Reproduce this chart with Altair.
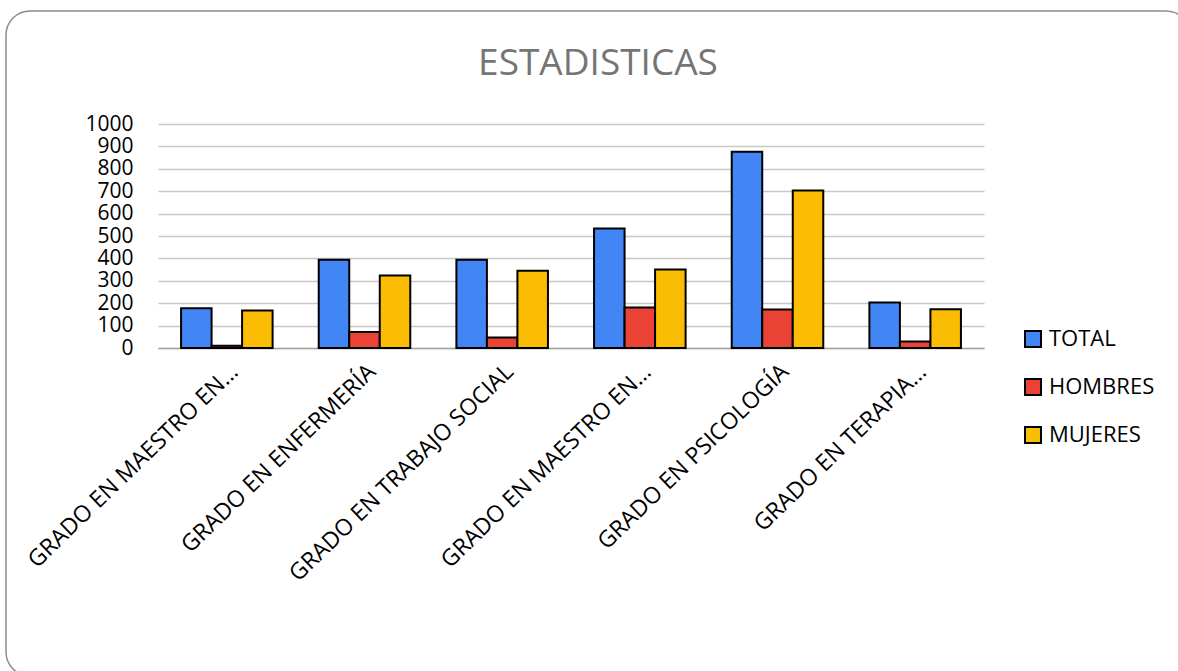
import json
import altair as alt
import pandas as pd

# ---- data ----
categorias = ["GRADO EN MAESTRO EN…", "GRADO EN ENFERMERÍA", "GRADO EN TRABAJO SOCIAL",
              "GRADO EN MAESTRO EN…", "GRADO EN PSICOLOGÍA", "GRADO EN TERAPIA…"]
series = ["TOTAL", "HOMBRES", "MUJERES"]
total = [178, 394, 394, 533, 876, 203]
hombres = [10, 71, 47, 181, 172, 29]
mujeres = [167, 324, 345, 350, 703, 173]
colores = ["#4285F4", "#EA4335", "#FBBC04"]
y_ticks = [0, 100, 200, 300, 400, 500, 600, 700, 800, 900, 1000]

rows = []
for i in range(len(categorias)):
    for s, vals in zip(series, [total, hombres, mujeres]):
        rows.append({"idx": i, "serie": s, "valor": vals[i]})
df = pd.DataFrame(rows)

W, H = 826, 224
PL, PT = 158, 124
FONT = "Open Sans"

label_expr = json.dumps(categorias, ensure_ascii=False) + "[datum.value]"

bars = alt.Chart(df).mark_bar(stroke="black", strokeWidth=2).encode(
    x=alt.X("idx:O",
            scale=alt.Scale(paddingInner=0.335, paddingOuter=0.1675),
            axis=alt.Axis(title=None, labelExpr=label_expr, labelAngle=-44,
                          labelAlign="right", labelBaseline="top", ticks=False,
                          domain=True, domainColor="#a6a6a6", domainWidth=1.5,
                          labelFontSize=23, labelPadding=12, labelLimit=0,
                          labelColor="black", labelFont=FONT)),
    xOffset=alt.XOffset("serie:N", sort=series,
                        scale=alt.Scale(domain=series, paddingInner=0, paddingOuter=0)),
    y=alt.Y("valor:Q",
            scale=alt.Scale(domain=[0, 1000], nice=False),
            axis=alt.Axis(title=None, values=y_ticks, format="d", ticks=False, domain=False,
                          gridColor="#c8c8c8", gridWidth=1.5, labelFontSize=21,
                          labelPadding=25, labelColor="black", labelFont=FONT)),
    color=alt.Color("serie:N", sort=series,
                    scale=alt.Scale(domain=series, range=colores),
                    legend=alt.Legend(title=None, orient="none", legendX=864, legendY=204,
                                      symbolType="square", symbolSize=256,
                                      symbolStrokeColor="black", symbolStrokeWidth=2,
                                      labelFontSize=22, labelFont=FONT, labelColor="black",
                                      rowPadding=24, labelOffset=5)),
)

frame = alt.Chart(pd.DataFrame({"a": [0]})).mark_rect(
    fillOpacity=0, stroke="#8c8c8c", strokeWidth=1.5, cornerRadius=24
).encode(
    x=alt.value(6 - PL), x2=alt.value(1190 - PL),
    y=alt.value(11 - PT), y2=alt.value(676 - PT),
)

chart = alt.layer(frame, bars).properties(
    width=W, height=H,
    title=alt.TitleParams("ESTADISTICAS", fontSize=37, color="#757575", font=FONT,
                          fontWeight="normal", anchor="middle", frame="group",
                          baseline="alphabetic", dx=27, offset=-102),
    autosize=alt.AutoSizeParams(type="none"),
    padding={"left": PL, "top": PT, "right": 1178 - PL - W, "bottom": 671 - PT - H},
    background="white",
).configure_view(stroke=None)

chart.save("out.html", embed_options={"renderer": "svg", "actions": False})
